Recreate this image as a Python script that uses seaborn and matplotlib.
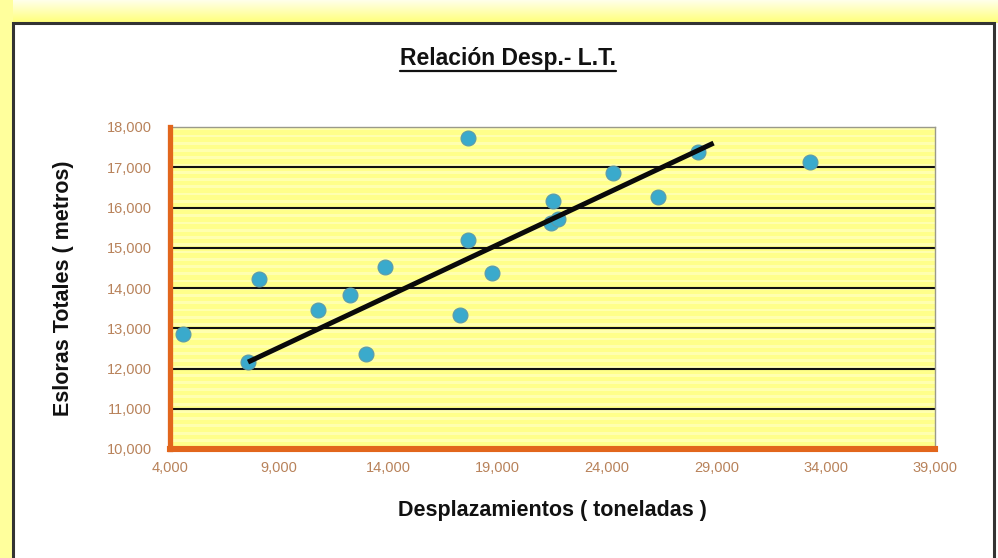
import numpy as np
import matplotlib
matplotlib.use("Agg")
import matplotlib.pyplot as plt
from matplotlib import font_manager
from matplotlib.lines import Line2D
from matplotlib.patches import Rectangle
from matplotlib.ticker import FuncFormatter
import seaborn as sns

# Displacement (tonnes) vs. overall length (metres)
desplazamientos = [4600, 7570, 8080, 10780, 12250, 12980, 13850, 17290, 17650,
                   17650, 18750, 21500, 21410, 21770, 24250, 26310, 28140, 33270]
esloras = [12860, 12160, 14220, 13450, 13830, 12360, 14520, 13330, 17730,
           15190, 14370, 16150, 15610, 15710, 16860, 16260, 17380, 17130]

# Fitted trend line endpoints
tendencia_x = [7570, 28870]
tendencia_y = [12160, 17600]

x_ticks = [4000, 9000, 14000, 19000, 24000, 29000, 34000, 39000]
y_ticks = [10000, 11000, 12000, 13000, 14000, 15000, 16000, 17000, 18000]

titulo = "Relación Desp.- L.T."
etiqueta_x = "Desplazamientos ( toneladas )"
etiqueta_y = "Esloras Totales ( metros)"


def pick_font(names):
    for n in names:
        try:
            font_manager.findfont(font_manager.FontProperties(family=n),
                                  fallback_to_default=False)
            return n
        except Exception:
            continue
    return "DejaVu Sans"


regular = pick_font(["Liberation Sans", "Arial", "DejaVu Sans"])

sns.set_theme(style="white")
plt.rcParams["font.family"] = [regular, "DejaVu Sans"]

W, H = 998, 558
fig = plt.figure(figsize=(W / 100, H / 100), dpi=100, facecolor="white")

# Pale-yellow frame around the white chart panel
bg = fig.add_axes([0, 0, 1, 1], zorder=-10)
bg.set_xlim(0, W)
bg.set_ylim(H, 0)
bg.axis("off")
grad = np.linspace(0, 1, 64)[:, None]
top_rgb = np.dstack([np.ones_like(grad), np.ones_like(grad),
                     0.92 - 0.45 * grad])
bg.imshow(top_rgb, extent=[0, W, 23, 0], aspect="auto", zorder=0)
bg.add_patch(Rectangle((0, 0), 13, H, color="#FFFF9C", lw=0, zorder=1))
bg.add_patch(Rectangle((13.5, 22.5), 981, 545, facecolor="white",
                       edgecolor="#333333", lw=2.2, zorder=2))

# Plot area
ax = fig.add_axes([170 / W, 1 - 449 / H, 765 / W, 322 / H])
ax.set_facecolor("#FFFF8A")
# faint horizontal banding of the fill
for yb in np.arange(10000, 18000, 180):
    ax.axhspan(yb, yb + 70, color="#FFFFB0", lw=0, zorder=0.1)

ax.set_xlim(x_ticks[0], x_ticks[-1])
ax.set_ylim(y_ticks[0], y_ticks[-1])
ax.set_xticks(x_ticks)
ax.set_yticks(y_ticks)
fmt = FuncFormatter(lambda v, p: f"{v:,.0f}")
ax.xaxis.set_major_formatter(fmt)
ax.yaxis.set_major_formatter(fmt)

for yv in y_ticks[1:-1]:
    ax.axhline(yv, color="#111111", lw=1.5, zorder=1)

sns.lineplot(x=tendencia_x, y=tendencia_y, ax=ax, color="#0A0A0A", lw=3.6,
             zorder=4, solid_capstyle="butt")
sns.scatterplot(x=desplazamientos, y=esloras, ax=ax, s=115, color="#3AAACC",
                edgecolor="#5E9AA8", linewidth=0.8, zorder=3)

for side in ("top", "right"):
    ax.spines[side].set_color("#9A9A8A")
    ax.spines[side].set_linewidth(1.0)
ax.spines["left"].set_color("#E2661C")
ax.spines["left"].set_linewidth(3.8)
ax.spines["bottom"].set_color("#E2661C")
ax.spines["bottom"].set_linewidth(4.4)
ax.spines["left"].set_zorder(5)
ax.spines["bottom"].set_zorder(5)

ax.tick_params(axis="both", which="major", direction="out", length=3,
               width=2, color="#E2661C", labelsize=10.5, labelcolor="#B8825A")
ax.tick_params(axis="y", pad=10)
ax.tick_params(axis="x", pad=6)

ax.set_xlabel(etiqueta_x, fontsize=15.5, fontweight="bold", color="#111111")
ax.set_ylabel(etiqueta_y, fontsize=15.5, fontweight="bold", color="#111111")
ax.xaxis.set_label_coords(0.5, (449 - 500) / 322)
ax.yaxis.set_label_coords((74 - 170) / 765, 0.5)

t = fig.text(508 / W, 1 - 58 / H, titulo, ha="center", va="center",
             fontsize=16.5, fontweight="bold", color="#111111")

fig.canvas.draw()
bb = t.get_window_extent()
uy = bb.y0 - 1
fig.add_artist(Line2D([bb.x0 / W, bb.x1 / W], [uy / H, uy / H],
                      color="#111111", lw=1.6, transform=fig.transFigure))

fig.savefig("out.png", dpi=100, facecolor="white")
